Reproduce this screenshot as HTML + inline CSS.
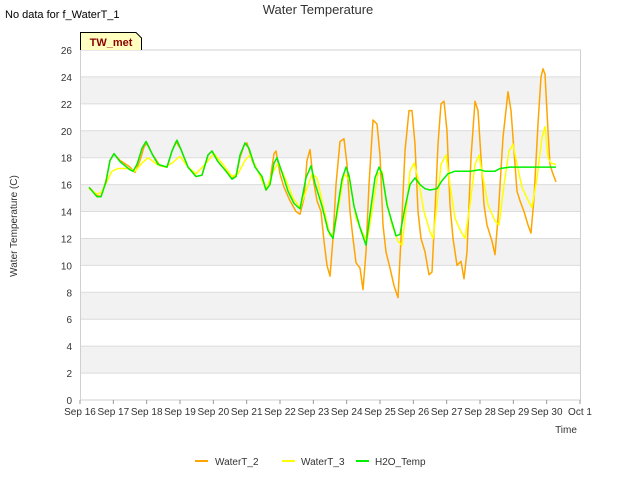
<!DOCTYPE html>
<html><head><meta charset="utf-8"><style>
body{margin:0;background:#fff;font-family:"Liberation Sans",sans-serif}
</style></head><body>
<svg id="chart" width="640" height="480" xmlns="http://www.w3.org/2000/svg" font-family="Liberation Sans, sans-serif">
<text x="5" y="18" font-size="11" fill="#000">No data for f_WaterT_1</text>
<text x="318" y="14" font-size="13" fill="#333" text-anchor="middle">Water Temperature</text>
<g id="plot"></g>
<g>
<path d="M80.5,50 L80.5,32.5 L136,32.5 L141.5,38 L141.5,50" fill="#ffffc0" stroke="#000" stroke-width="1"/>
<text x="111" y="46" font-size="11" font-weight="bold" fill="#8b0000" text-anchor="middle">TW_met</text>
</g>
<text transform="translate(17,226) rotate(-90)" font-size="10" fill="#333" text-anchor="middle">Water Temperature (C)</text>
<text x="566" y="433" font-size="10" fill="#333" text-anchor="middle">Time</text>
<g font-size="10" fill="#333">
<g><line x1="195" y1="461" x2="208" y2="461" stroke="#ffa500" stroke-width="2"/><text x="215" y="465">WaterT_2</text></g>
<g><line x1="282" y1="461" x2="295" y2="461" stroke="#ffff00" stroke-width="2"/><text x="301" y="465">WaterT_3</text></g>
<g><line x1="356" y1="461" x2="369" y2="461" stroke="#00ee00" stroke-width="2"/><text x="375" y="465">H2O_Temp</text></g>
</g>
</svg>
<script>
const xTickLabels=["Sep 16","Sep 17","Sep 18","Sep 19","Sep 20","Sep 21","Sep 22","Sep 23","Sep 24","Sep 25","Sep 26","Sep 27","Sep 28","Sep 29","Sep 30","Oct 1"];
const yTicks=[0,2,4,6,8,10,12,14,16,18,20,22,24,26];
const t2=[0.27,0.51,0.63,0.78,0.90,1.02,1.20,1.50,1.65,1.80,1.92,2.01,2.16,2.40,2.61,2.76,2.88,3.03,3.24,3.48,3.66,3.84,3.96,4.14,4.38,4.56,4.68,4.80,4.92,5.01,5.16,5.34,5.49,5.58,5.70,5.82,5.88,6.00,6.12,6.30,6.48,6.60,6.72,6.81,6.90,6.99,7.11,7.23,7.32,7.41,7.50,7.59,7.68,7.80,7.92,8.01,8.10,8.19,8.28,8.40,8.49,8.58,8.67,8.79,8.91,9.00,9.09,9.18,9.30,9.42,9.54,9.63,9.75,9.87,9.96,10.05,10.14,10.23,10.35,10.47,10.56,10.65,10.74,10.83,10.92,11.01,11.10,11.19,11.31,11.43,11.52,11.61,11.73,11.85,11.94,12.03,12.12,12.21,12.36,12.45,12.54,12.69,12.84,12.93,13.02,13.11,13.20,13.32,13.44,13.53,13.62,13.74,13.83,13.89,13.95,14.04,14.10,14.16,14.28];
const v2=[15.8,15.2,15.1,16.3,17.8,18.3,17.8,17.3,16.9,17.8,18.8,19.1,18.3,17.4,17.3,18.5,19.2,18.6,17.3,16.6,16.7,18.2,18.5,17.7,17.0,16.5,16.6,18.0,18.9,19.1,17.8,17.0,16.2,15.6,16.3,18.3,18.5,16.8,15.8,14.8,14.0,13.8,15.0,17.8,18.6,16.5,14.8,14.0,11.8,10.0,9.2,12.0,16.0,19.2,19.4,17.5,14.0,12.0,10.2,9.8,8.2,11.0,16.0,20.8,20.5,18.2,13.0,11.0,9.8,8.5,7.6,12.0,18.5,21.5,21.5,19.0,14.0,12.0,11.0,9.3,9.5,14.0,19.0,22.0,22.2,20.0,14.5,12.0,10.0,10.3,9.0,11.0,18.0,22.2,21.5,18.0,14.5,13.0,11.8,10.8,13.5,19.5,22.9,21.5,18.5,15.5,14.8,14.0,13.0,12.4,15.0,20.5,24.0,24.6,24.2,20.0,17.5,17.0,16.2];
const t3=[0.27,0.51,0.63,0.78,0.96,1.14,1.44,1.65,1.86,2.04,2.31,2.55,2.76,3.00,3.24,3.48,3.75,4.02,4.26,4.56,4.74,4.95,5.10,5.34,5.58,5.76,5.94,6.15,6.39,6.60,6.78,6.96,7.11,7.26,7.50,7.62,7.77,7.92,8.10,8.28,8.46,8.61,8.76,8.94,9.06,9.18,9.36,9.54,9.66,9.78,9.90,10.02,10.14,10.32,10.50,10.59,10.71,10.83,10.98,11.10,11.25,11.43,11.55,11.70,11.85,11.97,12.09,12.24,12.45,12.57,12.72,12.87,12.99,13.11,13.26,13.41,13.56,13.71,13.86,13.95,14.04,14.13,14.28];
const v3=[15.7,15.3,15.4,16.1,17.0,17.2,17.2,17.0,17.6,18.0,17.5,17.3,17.6,18.1,17.3,16.8,17.5,18.3,17.6,16.6,16.8,17.8,18.2,17.0,15.6,16.8,17.6,16.5,15.0,14.3,15.5,16.8,16.5,14.8,12.2,12.5,14.5,16.8,16.3,13.5,12.5,11.8,14.0,16.8,17.0,15.0,13.0,11.8,11.5,14.0,17.0,17.6,16.5,14.0,12.5,12.0,14.5,17.5,18.2,16.0,13.5,12.5,12.0,14.5,17.5,18.2,16.5,14.5,13.3,13.0,16.0,18.5,19.0,17.5,15.8,15.0,14.3,16.5,19.5,20.3,18.0,17.6,17.5];
const tH=[0.27,0.51,0.63,0.78,0.90,1.02,1.20,1.50,1.59,1.71,1.86,1.98,2.16,2.34,2.61,2.76,2.91,3.03,3.24,3.48,3.66,3.84,3.96,4.14,4.38,4.56,4.68,4.80,4.95,5.07,5.25,5.46,5.58,5.70,5.82,5.91,6.06,6.24,6.42,6.60,6.78,6.93,7.05,7.26,7.44,7.59,7.71,7.86,7.98,8.07,8.22,8.40,8.58,8.70,8.85,8.97,9.06,9.21,9.36,9.48,9.60,9.75,9.90,10.05,10.20,10.35,10.50,10.71,10.86,11.04,11.25,11.70,12.00,12.15,12.45,12.60,12.90,13.80,14.28];
const vH=[15.8,15.1,15.1,16.2,17.8,18.3,17.7,17.1,17.0,17.5,18.7,19.2,18.3,17.5,17.3,18.5,19.3,18.6,17.3,16.6,16.7,18.2,18.5,17.7,17.0,16.4,16.6,18.2,19.1,18.7,17.3,16.6,15.6,16.0,17.6,18.0,16.9,15.5,14.6,14.2,16.5,17.4,16.1,14.4,12.6,12.0,14.0,16.4,17.3,16.7,14.4,12.8,11.5,13.8,16.5,17.3,16.8,14.5,13.2,12.2,12.3,14.3,16.0,16.5,16.0,15.7,15.6,15.7,16.3,16.8,17.0,17.0,17.1,17.0,17.0,17.2,17.3,17.3,17.3];

const NS="http://www.w3.org/2000/svg";
const X0=80,X1=580,Y0=400,Y1=50,DAYS=15,VMAX=26;
const xs=d=>X0+d*(X1-X0)/DAYS;
const ys=v=>Y0-v*(Y0-Y1)/VMAX;
const plot=document.getElementById('plot');
function mk(tag,attrs){const e=document.createElementNS(NS,tag);for(const k in attrs)e.setAttribute(k,attrs[k]);plot.appendChild(e);return e;}
for(let i=0;i<yTicks.length-1;i++){
  if(i%2===1){const r=mk('rect',{x:X0,y:ys(yTicks[i+1]),width:X1-X0,height:ys(yTicks[i])-ys(yTicks[i+1]),fill:'#f2f2f2'});
  
  }
}
yTicks.forEach(v=>{
  const l=mk('line',{x1:X0,x2:X1,y1:ys(v),y2:ys(v),stroke:'#dcdcdc','stroke-width':1});
  
  
  const t=mk('text',{x:72,y:ys(v)+4,'font-size':10,fill:'#333','text-anchor':'end'});t.textContent=v;
  
  
});
const bd=mk('rect',{x:X0+0.5,y:Y1,width:X1-X0,height:Y0-Y1,fill:'none',stroke:'#d0d0d0'});


xTickLabels.forEach((s,i)=>{
  const tk=mk('line',{x1:xs(i),x2:xs(i),y1:Y0,y2:Y0+4,stroke:'#999'});
  
  
  const t=mk('text',{x:xs(i),y:Y0+15,'font-size':10,fill:'#333','text-anchor':'middle'});t.textContent=s;
  
  
});
function line(ts,vs,color,name){
  const p=mk('polyline',{points:ts.map((t,i)=>xs(t).toFixed(1)+','+ys(vs[i]).toFixed(1)).join(' '),fill:'none',stroke:color,'stroke-width':1.5,'stroke-linejoin':'round'});
  
  
}
line(t2,v2,'#ffa500','series-watert-2');
line(t3,v3,'#ffff00','series-watert-3');
line(tH,vH,'#00ee00','series-h2o-temp');
</script>
</body></html>
